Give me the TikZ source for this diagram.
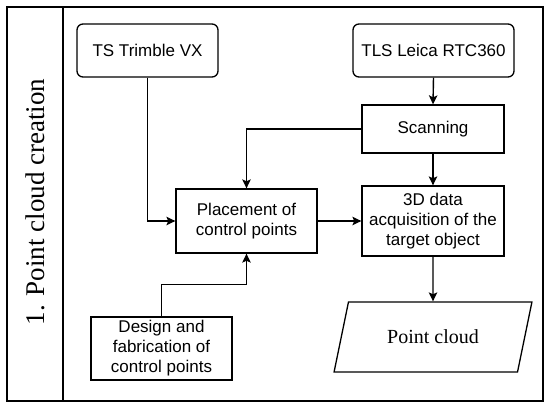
\documentclass[tikz,border=0pt]{standalone}
\usepackage{fontspec}
\setmainfont{Liberation Serif}
\setsansfont{Liberation Sans}
\usetikzlibrary{arrows.meta,shapes.geometric}

\tikzset{
  box/.style={draw,line width=1.3pt,align=center,inner sep=2pt,
    font=\sffamily\fontsize{17}{20}\selectfont},
  rbox/.style={box,rounded corners=6pt},
  outbox/.style={draw,line width=1.3pt,shape=trapezium,trapezium stretches=true,
    trapezium left angle=68,trapezium right angle=112,
    font=\fontsize{20}{24}\selectfont}
}

\begin{document}
\begin{tikzpicture}[x=1pt,y=-1pt,line width=1.4pt,>={Stealth[length=9pt,width=8.5pt,inset=2pt]}]
\useasboundingbox(0,0)rectangle(550,408);
\draw(7,7)rectangle(543,401);
\coordinate(divtop)at(63,7);
\coordinate(divbot)at(63,401);
\draw(divtop)--(divbot);
\node[rotate=90,font=\fontsize{27}{30}\selectfont](title)at(35,202){1. Point cloud creation};
% devices
\node[rbox,minimum width=141pt,minimum height=53pt](trimble)at(147.5,50.5){TS Trimble VX};
\node[rbox,minimum width=161pt,minimum height=53pt](leica)at(433.5,50.5){TLS Leica RTC360};
% steps
\node[box,minimum width=142pt,minimum height=48pt](scan)at(433,129){Scanning};
\node[box,minimum width=142pt,minimum height=70pt](acq)at(433,221){3D data\\acquisition of the\\target object};
\node[box,minimum width=141pt,minimum height=64pt](place)at(246.5,221){Placement of\\control points};
\node[box,minimum width=141pt,minimum height=63pt](design)at(161.5,348.5){Design and\\fabrication of\\control points};
\node[outbox,minimum width=198pt,minimum height=70pt](pc)at(433,337){Point cloud};
% connectors
\draw[->](leica.south)--(scan.north);
\draw[->](scan.south)--(acq.north);
\draw[->](acq.south)--(pc.north);
\draw[->](place.east)--(acq.west);
\draw[->](trimble.south)|-(place.west);
\draw[->](scan.west)-|(place.north);
\draw[->](design.north)--++(0,-32)-|(place.south);
\end{tikzpicture}
\end{document}
